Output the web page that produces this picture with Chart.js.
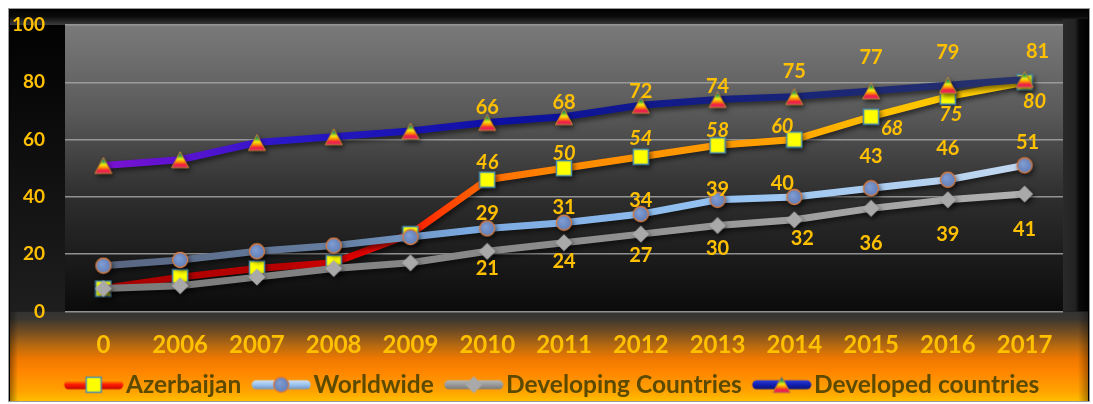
<!DOCTYPE html>
<html>
<head>
<meta charset="utf-8">
<script src="https://cdn.jsdelivr.net/npm/chart.js@4.4.0/dist/chart.umd.min.js"></script>
<style>
    html, body { margin: 0; padding: 0; background: #fff; }
    #chart-box { width: 1093px; height: 404px; }
</style>
</head>
<body>
<div id="chart-box"><canvas id="line-chart" width="1093" height="404"></canvas></div>
<script>
// ------------------------------------------------------
// @Data
// ------------------------------------------------------

const years      = ['0', '2006', '2007', '2008', '2009', '2010', '2011', '2012', '2013', '2014', '2015', '2016', '2017'];
const azerbaijan = [8, 12, 15, 17, 27, 46, 50, 54, 58, 60, 68, 75, 80];
const worldwide  = [16, 18, 21, 23, 26, 29, 31, 34, 39, 40, 43, 46, 51];
const developing = [8, 9, 12, 15, 17, 21, 24, 27, 30, 32, 36, 39, 41];
const developed  = [51, 53, 59, 61, 63, 66, 68, 72, 74, 75, 77, 79, 81];
const yTicks     = [0, 20, 40, 60, 80, 100];

// value labels are shown from 2010 on
const firstLabel = 5;

// label nudges [dx, dy] for 2010..2017, per series
const labelNudge = {
    Azerbaijan            : [[0, -17], [0, -15], [0, -18], [0, -15], [-12, -13], [21, 12], [3, 18], [10, 19]],
    Worldwide             : [[0, -15], [0, -15], [0, -14], [0, -10], [-12, -13], [0, -32], [0, -31], [3, -23]],
    'Developing Countries': [[0, 17], [0, 19], [0, 21], [0, 23], [8, 19], [0, 35], [0, 35], [0, 36]],
    'Developed countries' : [[0, -15], [0, -14], [0, -14], [0, -13], [0, -25], [0, -33], [0, -33], [13, -28]],
};

const GOLD = '#FFC000';

// ------------------------------------------------------
// @Markers
// ------------------------------------------------------

function makeCanvas(w, h, draw) {
    const c = document.createElement('canvas');
    c.width = w;
    c.height = h;
    draw(c.getContext('2d'));
    return c;
}

function drawSquare(ctx, cx, cy) {
    ctx.fillStyle = '#ffff00';
    ctx.fillRect(cx - 7.5, cy - 7.5, 15, 15);
    ctx.strokeStyle = '#4c8fae';
    ctx.lineWidth = 1.5;
    ctx.strokeRect(cx - 7.5, cy - 7.5, 15, 15);
}

function drawCircle(ctx, cx, cy) {
    const g = ctx.createRadialGradient(cx - 2, cy - 2, 1, cx, cy, 8);
    g.addColorStop(0, '#7f9bd0');
    g.addColorStop(1, '#5f7db8');
    ctx.beginPath();
    ctx.arc(cx, cy, 7.5, 0, Math.PI * 2);
    ctx.fillStyle = g;
    ctx.fill();
    ctx.strokeStyle = '#d97b3f';
    ctx.lineWidth = 1.3;
    ctx.stroke();
}

function drawDiamond(ctx, cx, cy) {
    ctx.beginPath();
    ctx.moveTo(cx, cy - 8.5);
    ctx.lineTo(cx + 8.5, cy);
    ctx.lineTo(cx, cy + 8.5);
    ctx.lineTo(cx - 8.5, cy);
    ctx.closePath();
    ctx.fillStyle = '#a9a9a9';
    ctx.fill();
}

function drawTriangle(ctx, cx, cy) {
    const g = ctx.createLinearGradient(0, cy - 8, 0, cy + 8);
    g.addColorStop(0.0, '#2b3bc4');
    g.addColorStop(0.25, '#2aa04a');
    g.addColorStop(0.45, '#f2ee10');
    g.addColorStop(0.62, '#ff9a00');
    g.addColorStop(0.8, '#f0243a');
    g.addColorStop(1.0, '#e0226e');
    ctx.beginPath();
    ctx.moveTo(cx, cy - 8);
    ctx.lineTo(cx + 8.5, cy + 8);
    ctx.lineTo(cx - 8.5, cy + 8);
    ctx.closePath();
    ctx.fillStyle = g;
    ctx.fill();
    ctx.strokeStyle = '#c8842a';
    ctx.lineWidth = 1;
    ctx.stroke();
}

const pointSquare   = makeCanvas(18, 18, ctx => drawSquare(ctx, 9, 9));
const pointCircle   = makeCanvas(18, 18, ctx => drawCircle(ctx, 9, 9));
const pointDiamond  = makeCanvas(20, 20, ctx => drawDiamond(ctx, 10, 10));
const pointTriangle = makeCanvas(20, 20, ctx => drawTriangle(ctx, 10, 10));

// legend swatch: a short pill of line with the marker in the middle
function makeSwatch(stops, marker) {
    return makeCanvas(80, 20, ctx => {
        const g = ctx.createLinearGradient(0, 5, 0, 15);
        stops.forEach(([p, c]) => g.addColorStop(p, c));
        ctx.lineCap = 'round';
        ctx.lineWidth = 9;
        ctx.strokeStyle = g;
        ctx.beginPath();
        ctx.moveTo(25, 10);
        ctx.lineTo(75, 10);
        ctx.stroke();
        marker(ctx, 50, 10);
    });
}

const legendSwatches = [
    makeSwatch([[0, '#ffb000'], [0.45, '#ff2000'], [1, '#c00000']], drawSquare),
    makeSwatch([[0, '#d0e4f8'], [0.5, '#9cc4ee'], [1, '#6b8fc0']], drawCircle),
    makeSwatch([[0, '#b8b8b8'], [0.5, '#9a9a9a'], [1, '#777']], drawDiamond),
    makeSwatch([[0, '#3040e0'], [0.5, '#1020b0'], [1, '#0a1270']], drawTriangle),
];

// ------------------------------------------------------
// @Line gradients
// ------------------------------------------------------

function hGradient(stops, fallback) {
    return context => {
        const area = context.chart.chartArea;
        if (!area) return fallback;
        const g = context.chart.ctx.createLinearGradient(area.left, 0, area.right, 0);
        stops.forEach(([p, c]) => g.addColorStop(p, c));
        return g;
    };
}

// ------------------------------------------------------
// @Plugins
// ------------------------------------------------------

const backdrop = {
    id: 'backdrop',
    beforeDraw(chart) {
        const { ctx, width, height } = chart;
        const a = chart.chartArea;
        const L = 8, T = 8, R = width - 3, B = height - 2;
        ctx.save();

        ctx.fillStyle = '#fff';
        ctx.fillRect(0, 0, width, height);

        // frame
        ctx.fillStyle = '#000';
        ctx.fillRect(L, T, R - L, B - T);

        // top band
        let g = ctx.createLinearGradient(0, T, 0, a.top);
        g.addColorStop(0, '#000');
        g.addColorStop(0.5, '#0a0a0a');
        g.addColorStop(1, '#3c3c3c');
        ctx.fillStyle = g;
        ctx.fillRect(L + 2, T + 2, R - L - 4, a.top - T - 2);

        // left column
        g = ctx.createLinearGradient(0, T, 0, a.bottom);
        g.addColorStop(0, '#000');
        g.addColorStop(1, '#1e1e1e');
        ctx.fillStyle = g;
        ctx.fillRect(L + 2, a.top, a.left - L - 2, a.bottom - a.top);

        // right column
        g = ctx.createLinearGradient(a.right, 0, R, 0);
        g.addColorStop(0, '#2a2a2a');
        g.addColorStop(0.45, '#222');
        g.addColorStop(0.6, '#080808');
        g.addColorStop(1, '#000');
        ctx.fillStyle = g;
        ctx.fillRect(a.right, a.top - 6, R - a.right - 2, a.bottom - a.top + 6);

        // plot area
        g = ctx.createLinearGradient(0, a.top, 0, a.bottom);
        g.addColorStop(0, '#7a7a7a');
        g.addColorStop(0.3, '#5a5a5a');
        g.addColorStop(0.6, '#2e2e2e');
        g.addColorStop(1, '#0b0b0b');
        ctx.fillStyle = g;
        ctx.fillRect(a.left, a.top, a.right - a.left, a.bottom - a.top);

        // lower orange band
        g = ctx.createLinearGradient(0, a.bottom, 0, B);
        g.addColorStop(0.0, '#333');
        g.addColorStop(0.08, '#3a3630');
        g.addColorStop(0.24, '#7a5020');
        g.addColorStop(0.38, '#b86a10');
        g.addColorStop(0.52, '#ee7800');
        g.addColorStop(0.66, '#ff8500');
        g.addColorStop(0.88, '#ffa200');
        g.addColorStop(1.0, '#ffc000');
        ctx.fillStyle = g;
        ctx.fillRect(L + 2, a.bottom, R - L - 4, B - a.bottom - 1);

        // side bevels of the lower band
        g = ctx.createLinearGradient(L, 0, L + 10, 0);
        g.addColorStop(0, 'rgba(0,0,0,0.45)');
        g.addColorStop(1, 'rgba(0,0,0,0)');
        ctx.fillStyle = g;
        ctx.fillRect(L + 2, a.bottom, 10, B - a.bottom - 1);
        g = ctx.createLinearGradient(R - 12, 0, R, 0);
        g.addColorStop(0, 'rgba(0,0,0,0)');
        g.addColorStop(1, 'rgba(0,0,0,0.4)');
        ctx.fillStyle = g;
        ctx.fillRect(R - 12, a.bottom, 10, B - a.bottom - 1);

        // outer edge
        ctx.strokeStyle = '#9a9a9a';
        ctx.lineWidth = 1;
        ctx.strokeRect(L + 0.5, T + 0.5, R - L - 1, B - T - 1);

        ctx.restore();
    },
};

const lineShadow = {
    id: 'lineShadow',
    beforeDatasetDraw(chart) {
        const ctx = chart.ctx;
        ctx.save();
        ctx.shadowColor = 'rgba(0,0,0,0.55)';
        ctx.shadowBlur = 5;
        ctx.shadowOffsetX = 2;
        ctx.shadowOffsetY = 3;
    },
    afterDatasetDraw(chart) {
        chart.ctx.restore();
    },
};

const valueLabels = {
    id: 'valueLabels',
    afterDatasetsDraw(chart) {
        const ctx = chart.ctx;
        chart.data.datasets.forEach((ds, di) => {
            const nudge = labelNudge[ds.label];
            if (!nudge) return;
            const meta = chart.getDatasetMeta(di);
            ctx.save();
            ctx.font = (ds.label === 'Azerbaijan' ? 'italic ' : '') + 'bold 20px Lato';
            ctx.fillStyle = GOLD;
            ctx.textAlign = 'center';
            ctx.textBaseline = 'middle';
            meta.data.forEach((pt, i) => {
                if (i < firstLabel) return;
                const [dx, dy] = nudge[i - firstLabel];
                ctx.fillText(String(ds.data[i]), pt.x + dx, pt.y + dy);
            });
            ctx.restore();
        });
    },
};

// ------------------------------------------------------
// @Line Chart
// ------------------------------------------------------

Chart.defaults.font.family = 'Lato';

const lineChartBox = document.getElementById('line-chart');

if (lineChartBox) {
    const lineCtx = lineChartBox.getContext('2d');

    new Chart(lineCtx, {
        type: 'line',
        data: {
            labels: years,
            datasets: [{
                label       : 'Azerbaijan',
                data        : azerbaijan,
                order       : 4,
                borderWidth : 7,
                borderColor : hGradient([
                    [0.0, '#a80000'], [0.22, '#b80000'], [0.3, '#e00000'],
                    [0.36, '#ff2a00'], [0.42, '#ff6a00'], [0.5, '#ff8a00'],
                    [0.72, '#ffa200'], [0.82, '#ffc000'], [1.0, '#ffd800'],
                ], '#ff8a00'),
                pointStyle  : pointSquare,
                pointRadius : 8,
            }, {
                label       : 'Worldwide',
                data        : worldwide,
                order       : 3,
                borderWidth : 7,
                borderColor : hGradient([
                    [0.0, '#56617a'], [0.28, '#667fa2'], [0.4, '#7aa8e0'],
                    [0.65, '#94c2f2'], [1.0, '#c9dbef'],
                ], '#94c2f2'),
                pointStyle  : pointCircle,
                pointRadius : 8,
            }, {
                label       : 'Developing Countries',
                data        : developing,
                order       : 2,
                borderWidth : 7,
                borderColor : hGradient([
                    [0.0, '#787878'], [0.5, '#8c8c8c'], [1.0, '#b4b4b4'],
                ], '#8c8c8c'),
                pointStyle  : pointDiamond,
                pointRadius : 8,
            }, {
                label       : 'Developed countries',
                data        : developed,
                order       : 1,
                borderWidth : 7,
                borderColor : hGradient([
                    [0.0, '#8a12d2'], [0.12, '#5a12d0'], [0.22, '#2a18c8'],
                    [0.45, '#0c10a0'], [0.7, '#16227a'], [1.0, '#2a3566'],
                ], '#0c10a0'),
                pointStyle  : pointTriangle,
                pointRadius : 8,
            }],
        },

        options: {
            responsive : false,
            animation  : false,
            layout: {
                padding: { top: 25, left: 8, right: 8, bottom: -3 },
            },
            plugins: {
                tooltip: { enabled: false },
                legend: {
                    position: 'bottom',
                    labels: {
                        usePointStyle  : true,
                        pointStyleWidth: 60,
                        padding        : 0,
                        color          : '#5c4a00',
                        font           : { size: 24.5, weight: 'bold' },
                        generateLabels(chart) {
                            const items = Chart.defaults.plugins.legend.labels.generateLabels(chart);
                            items.sort((a, b) => a.datasetIndex - b.datasetIndex);
                            items.forEach(item => {
                                item.pointStyle = legendSwatches[item.datasetIndex];
                                item.fontColor = '#5c4a00';
                            });
                            return items;
                        },
                    },
                },
            },
            scales: {
                x: {
                    offset : true,
                    grid   : { display: false, drawTicks: false, offset: true },
                    border : { display: false },
                    ticks  : {
                        color       : GOLD,
                        font        : { size: 24, weight: 'bold' },
                        padding     : 19,
                        maxRotation : 0,
                        autoSkip    : false,
                    },
                    afterFit(scale) { scale.height = 61; },
                },
                y: {
                    min    : 0,
                    max    : 100,
                    border : { display: false },
                    grid   : { color: 'rgba(165,165,165,0.85)', lineWidth: 1.5, drawTicks: false },
                    ticks  : {
                        color   : GOLD,
                        font    : { size: 19, weight: 'bold' },
                        padding : 20,
                    },
                    afterBuildTicks(scale) { scale.ticks = yTicks.map(v => ({ value: v })); },
                    afterFit(scale) {
                        scale.width = 57;
                        scale.paddingTop = 0;
                        scale.paddingBottom = 0;
                    },
                },
                yRight: {
                    position : 'right',
                    grid     : { display: false, drawTicks: false },
                    border   : { display: false },
                    ticks    : { display: false },
                    afterFit(scale) { scale.width = 22; },
                },
            },
        },
        plugins: [backdrop, lineShadow, valueLabels],
    });
}
</script>
</body>
</html>
